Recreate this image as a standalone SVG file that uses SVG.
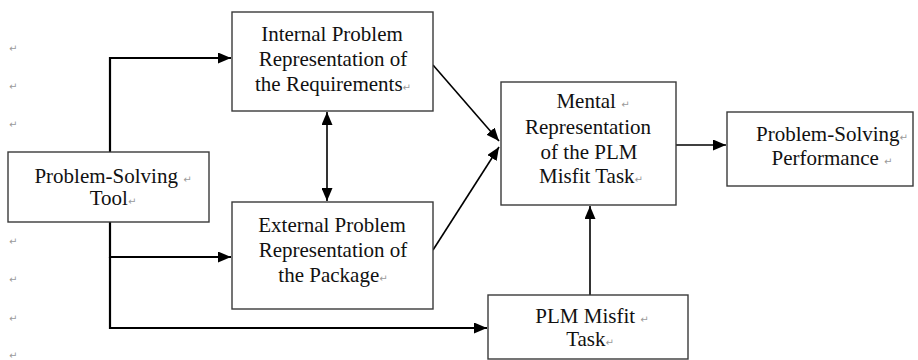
<svg xmlns="http://www.w3.org/2000/svg" width="918" height="360" viewBox="0 0 918 360">
<defs>
<style>
.box{fill:#fff;stroke:#3a3a3a;stroke-width:1.4}
.t{font-family:"Liberation Serif","Times New Roman",serif;font-size:21px;fill:#111;text-anchor:middle}
.pm{font-family:"DejaVu Sans",sans-serif;font-size:10px;fill:#9a9a9a}
.c{fill:none;stroke:#000;stroke-width:2.2}
.d{fill:none;stroke:#000;stroke-width:1.6}
</style>
<marker id="ah" markerUnits="userSpaceOnUse" markerWidth="13" markerHeight="11" refX="13" refY="5.5" orient="auto-start-reverse">
<path d="M0,0 L13,5.5 L0,11 z" fill="#000"/>
</marker>
</defs>
<rect width="918" height="360" fill="#fff"/>
<g id="margin-marks">
<text class="pm" x="9" y="52">↵</text>
<text class="pm" x="9" y="90">↵</text>
<text class="pm" x="9" y="128">↵</text>
<text class="pm" x="9" y="245">↵</text>
<text class="pm" x="9" y="283">↵</text>
<text class="pm" x="9" y="322">↵</text>
<text class="pm" x="9" y="359">↵</text>
</g>
<g id="connectors">
<path class="c" d="M110,152 V58 H231" marker-end="url(#ah)"/>
<path class="c" d="M110,222 V257 H231" marker-end="url(#ah)"/>
<path class="c" d="M110,257 V328 H487" marker-end="url(#ah)"/>
<path class="d" d="M327,112 V201" marker-start="url(#ah)" marker-end="url(#ah)"/>
<path class="d" d="M433,65 L499,141" marker-end="url(#ah)"/>
<path class="d" d="M433,250 L499,147" marker-end="url(#ah)"/>
<path class="d" d="M676,145 H726" marker-end="url(#ah)"/>
<path class="d" d="M590,295 V206" marker-end="url(#ah)"/>
</g>
<g id="tool">
<rect class="box" x="8" y="152" width="201" height="70"/>
<text class="t" x="113" y="183">Problem-Solving <tspan class="pm">↵</tspan></text>
<text class="t" x="113" y="205">Tool<tspan class="pm">↵</tspan></text>
</g>
<g id="internal">
<rect class="box" x="232" y="12" width="201" height="99"/>
<text class="t" x="332" y="41">Internal Problem</text>
<text class="t" x="333" y="66">Representation of</text>
<text class="t" x="333" y="91">the Requirements<tspan class="pm">↵</tspan></text>
</g>
<g id="external">
<rect class="box" x="232" y="202" width="201" height="107"/>
<text class="t" x="332" y="232">External Problem</text>
<text class="t" x="333" y="257">Representation of</text>
<text class="t" x="333" y="282">the Package<tspan class="pm">↵</tspan></text>
</g>
<g id="mental">
<rect class="box" x="501" y="82" width="175" height="123"/>
<text class="t" x="593" y="108">Mental <tspan class="pm">↵</tspan></text>
<text class="t" x="588" y="134">Representation</text>
<text class="t" x="589" y="159">of the PLM</text>
<text class="t" x="591" y="183">Misfit Task<tspan class="pm">↵</tspan></text>
</g>
<g id="performance">
<rect class="box" x="727" y="112" width="186" height="74"/>
<text class="t" x="832" y="141">Problem-Solving<tspan class="pm">↵</tspan></text>
<text class="t" x="832" y="165">Performance <tspan class="pm">↵</tspan></text>
</g>
<g id="plm">
<rect class="box" x="488" y="295" width="200" height="64"/>
<text class="t" x="592" y="323">PLM Misfit <tspan class="pm">↵</tspan></text>
<text class="t" x="590" y="346">Task<tspan class="pm">↵</tspan></text>
</g>
</svg>
